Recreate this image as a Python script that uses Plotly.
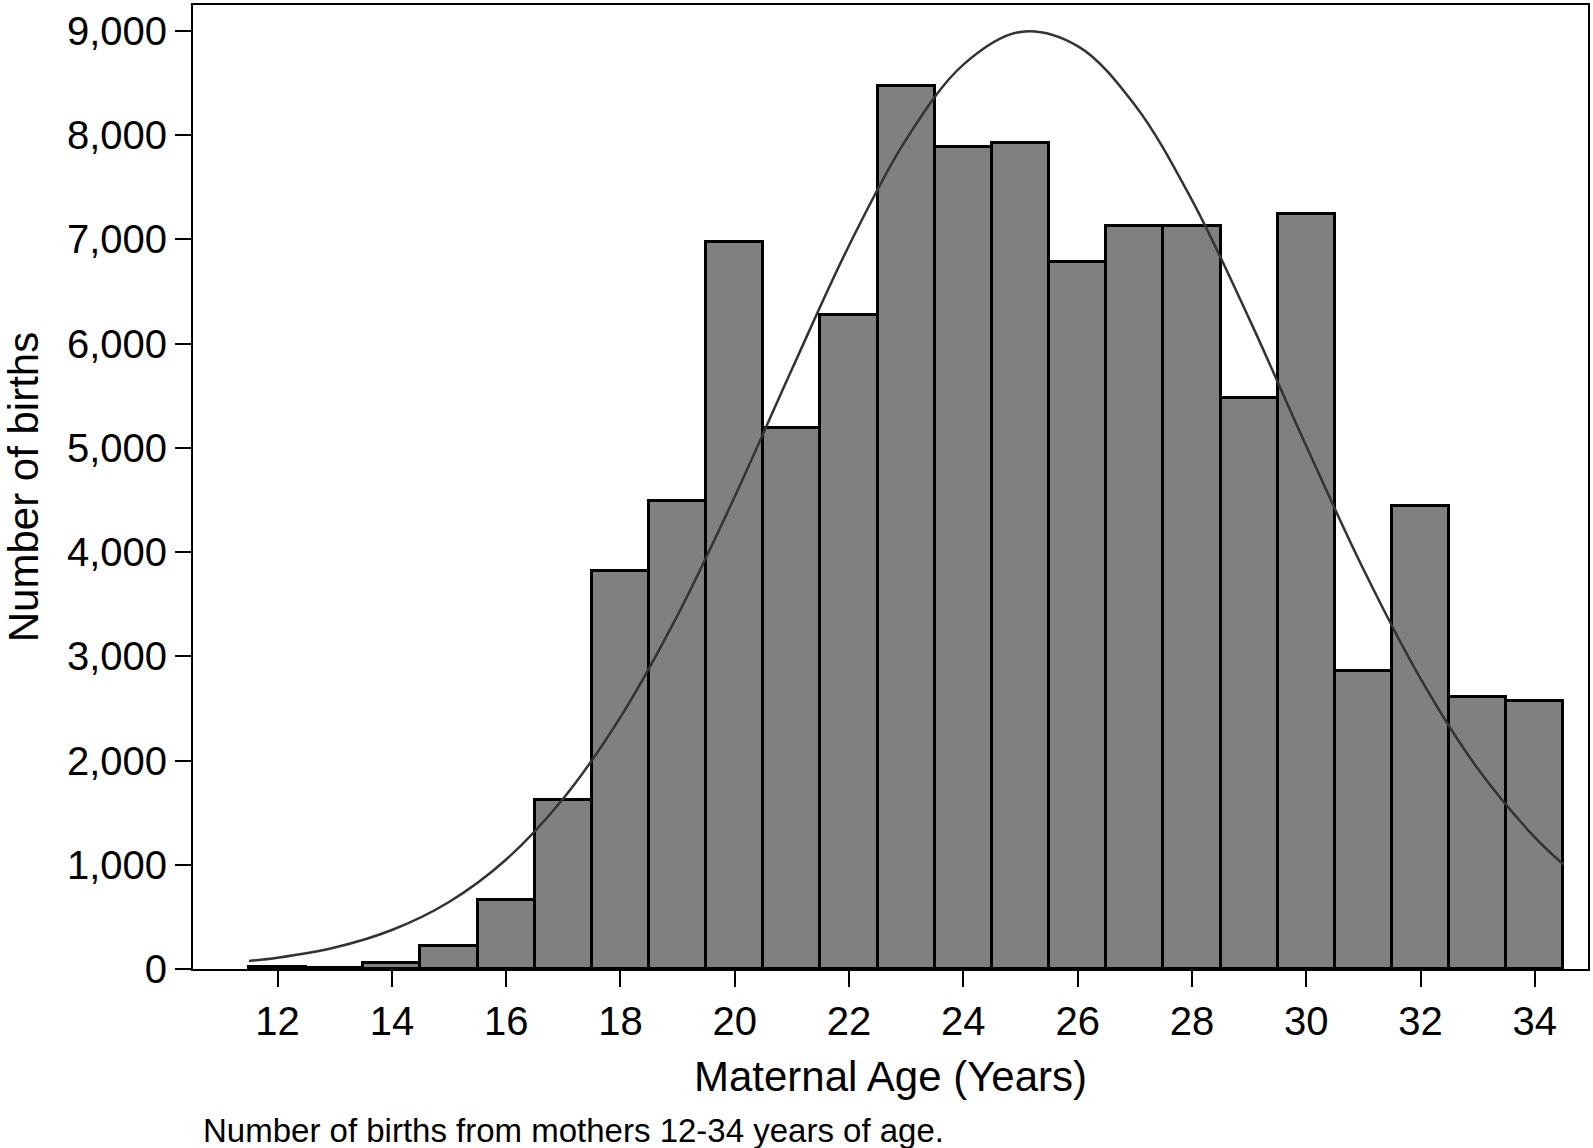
import plotly.graph_objects as go

ages = list(range(12, 35))
births = [20, 5, 55, 220, 665, 1620, 3815, 4495, 6971, 5194, 6272, 8475,
          7890, 7922, 6785, 7127, 7125, 5476, 7243, 2862, 4447, 2611, 2573]

curve_x = [11.5, 12, 13, 14, 15, 16, 17, 18, 19, 20, 21, 22, 23, 24, 25,
           26, 27, 28, 29, 30, 31, 32, 33, 34, 34.5]
curve_y = [77, 108, 206, 374, 643, 1051, 1636, 2417, 3395, 4533, 5754, 6942,
           7960, 8677, 8991, 8855, 8290, 7377, 6240, 5018, 3835, 2786, 1923,
           1263, 1003]

x_ticks = list(range(12, 35, 2))
y_ticks = list(range(0, 9001, 1000))

FONT = "Liberation Sans, Arial, sans-serif"

fig = go.Figure()
fig.add_trace(go.Bar(
    x=ages, y=births, width=1,
    marker=dict(color="#808080", line=dict(color="#000000", width=3)),
    showlegend=False,
))
fig.add_trace(go.Scatter(
    x=curve_x, y=curve_y, mode="lines", line_shape="spline",
    line=dict(color="#333333", width=2.5), showlegend=False,
))

fig.update_layout(
    width=1593, height=1148,
    margin=dict(l=193, r=3, t=3, b=179),
    plot_bgcolor="white", paper_bgcolor="white",
    bargap=0,
    font=dict(family=FONT, color="#000000", size=40),
    xaxis=dict(
        range=[10.52, 34.93], tickvals=x_ticks, ticktext=[str(v) for v in x_ticks],
        ticks="outside", ticklen=16, tickwidth=2, tickcolor="#000",
        showline=True, linecolor="#000", linewidth=2, mirror=True,
        showgrid=False, zeroline=False,
        tickfont=dict(size=40),
        title=dict(text="Maternal Age (Years)", font=dict(size=42), standoff=20),
    ),
    yaxis=dict(
        range=[0, 9249], tickvals=y_ticks, tickformat=",",
        ticks="outside", ticklen=16, tickwidth=2, tickcolor="#000",
        showline=True, linecolor="#000", linewidth=2, mirror=True,
        showgrid=False, zeroline=False,
        tickfont=dict(size=40),
    ),
)

fig.add_annotation(
    text="Number of births", textangle=-90,
    xref="paper", yref="paper", x=(23 - 193) / (1590 - 193), y=0.5,
    xanchor="center", yanchor="middle", showarrow=False,
    font=dict(size=42, family=FONT, color="#000"),
)

fig.add_annotation(
    text="Number of births from mothers 12-34 years of age.",
    xref="paper", yref="paper", x=(201 - 193) / (1590 - 193), y=-(1131 - 969) / (969 - 3),
    xanchor="left", yanchor="middle", showarrow=False,
    font=dict(size=33, family=FONT, color="#000"),
)

fig.write_html("out.html", config={"displayModeBar": False},
               post_script="document.body.style.margin='0';")
